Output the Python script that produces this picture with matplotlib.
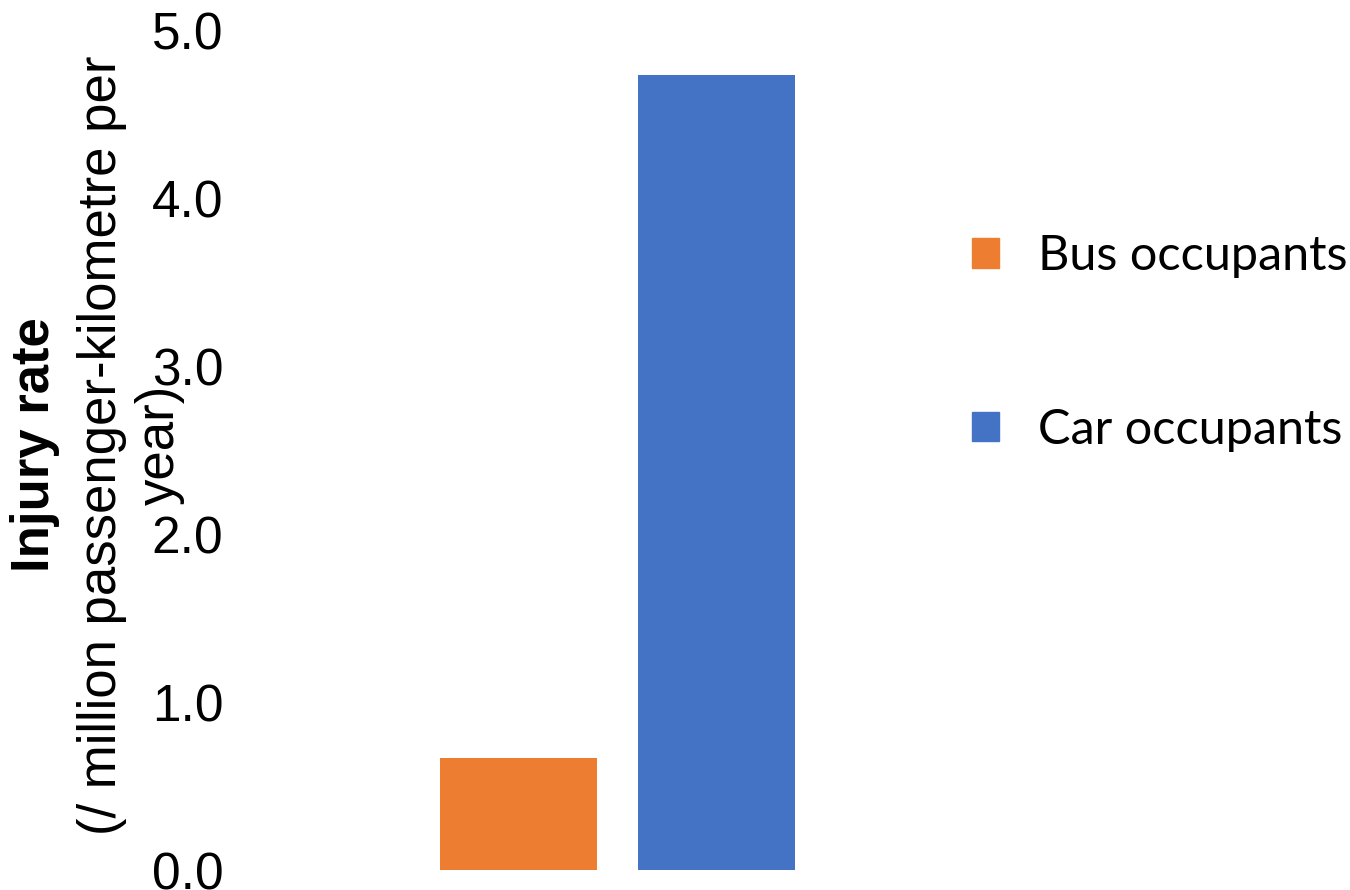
import matplotlib
matplotlib.use("Agg")
import matplotlib.pyplot as plt
from matplotlib.patches import Patch

# data
groups = ["Bus occupants", "Car occupants"]
rates = [0.667, 4.73]
colors = ["#ED7D31", "#4472C4"]
yticks = [0.0, 1.0, 2.0, 3.0, 4.0, 5.0]

fig = plt.figure(figsize=(13.5, 8.9), dpi=100)
# axes: left 240px, right 940px, bottom 870px, top 30px
ax = fig.add_axes([240 / 1350, 1 - 870 / 890, 700 / 1350, (870 - 30) / 890])

ax.bar(range(len(rates)), rates, width=0.793, color=colors)
ax.set_xlim(-1.407, 2.129)
ax.set_ylim(0, 5)
ax.set_yticks(yticks)
ax.set_yticklabels([f"{v:.1f}" for v in yticks], family="Liberation Sans", fontsize=37)
ax.set_xticks([])
ax.tick_params(axis="y", length=0, pad=12)
for s in ax.spines.values():
    s.set_visible(False)

narrow = ["Liberation Sans Narrow", "Liberation Sans"]
fig.text(35 / 1350, 0.5, "Injury rate", rotation=90, ha="center", va="center",
         family=narrow, fontweight="bold", fontsize=38)
fig.text(131 / 1350, 0.5, "(/ million passenger-kilometre per\nyear)", rotation=90,
         ha="center", va="center", family=narrow, fontsize=38, linespacing=1.2)

handles = [Patch(color=c) for c in colors]
fig.legend(handles, groups, loc="center left", bbox_to_anchor=(928 / 1350, 1 - 343 / 890),
           frameon=False, prop={"family": "Lato", "size": 35},
           handlelength=0.556, handleheight=0.556, handletextpad=0.8, labelspacing=2.66)

fig.savefig("out.png", dpi=100)
